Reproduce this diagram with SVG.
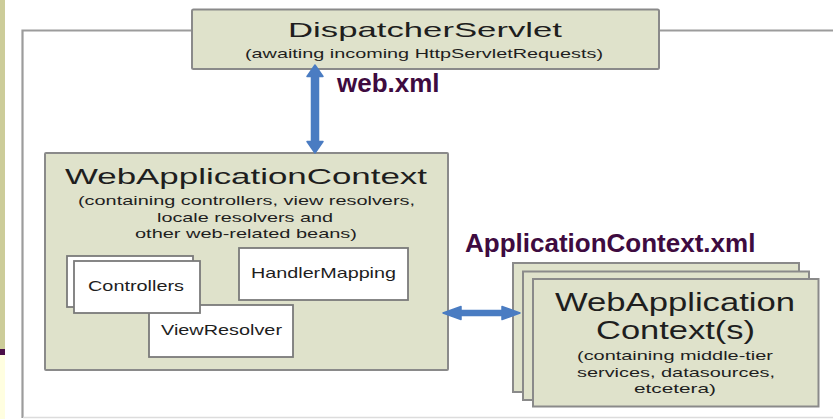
<svg xmlns="http://www.w3.org/2000/svg" width="833" height="419" viewBox="0 0 833 419">
<defs>
<style>
.box{fill:#dfe2cb;stroke:#8a8a8a;stroke-width:2}
.wbox{fill:#ffffff;stroke:#7a7a7a;stroke-width:1.8}
.t{font-family:"Liberation Sans",Arial,sans-serif;fill:#1e1e1e}
.lbl{font-family:"Liberation Sans",Arial,sans-serif;font-weight:bold;fill:#3e0b40;font-size:26px}
.arr{fill:#4a7cc2;stroke:#4a7cc2;stroke-width:1.5;stroke-linejoin:round}
</style>
</defs>
<rect x="0" y="0" width="833" height="419" fill="#ffffff"/>
<g id="slide-strip">
<rect x="0" y="0" width="5" height="349" fill="#cccc99"/>
<rect x="0" y="349" width="5" height="6" fill="#4b0f48"/>
<rect x="0" y="355" width="5" height="64" fill="#fffee0"/>
</g>
<g id="frame">
<path d="M22.5,418 V30.5 H840" fill="none" stroke="#9c9c9c" stroke-width="2.2"/>
<line x1="23" y1="417.5" x2="833" y2="417.5" stroke="#dcdcdc" stroke-width="1.5"/>
</g>
<g id="dispatcher">
<rect class="box" x="192" y="9.5" width="467" height="59.5" rx="1.5"/>
<text class="t" x="288" y="37" font-size="21" textLength="274" lengthAdjust="spacingAndGlyphs">DispatcherServlet</text>
<text class="t" x="245" y="58" font-size="13" textLength="358" lengthAdjust="spacingAndGlyphs">(awaiting incoming HttpServletRequests)</text>
</g>
<g id="webappctx">
<rect class="box" x="45" y="153" width="403" height="217" rx="1"/>
<text class="t" x="65" y="184" font-size="22" textLength="362" lengthAdjust="spacingAndGlyphs">WebApplicationContext</text>
<text class="t" x="78" y="205" font-size="13" textLength="337" lengthAdjust="spacingAndGlyphs">(containing controllers, view resolvers,</text>
<text class="t" x="157" y="221.5" font-size="13" textLength="176" lengthAdjust="spacingAndGlyphs">locale resolvers and</text>
<text class="t" x="135" y="237.5" font-size="13" textLength="222" lengthAdjust="spacingAndGlyphs">other web-related beans)</text>
</g>
<g id="viewresolver">
<rect class="wbox" x="149" y="305" width="144" height="52"/>
<text class="t" x="161" y="335" font-size="15" textLength="121" lengthAdjust="spacingAndGlyphs">ViewResolver</text>
</g>
<g id="controllers">
<rect class="wbox" x="67" y="256" width="126" height="51"/>
<rect class="wbox" x="74" y="261" width="126" height="52"/>
<text class="t" x="88" y="291" font-size="15" textLength="96" lengthAdjust="spacingAndGlyphs">Controllers</text>
</g>
<g id="handlermapping">
<rect class="wbox" x="239" y="248" width="169" height="52"/>
<text class="t" x="251" y="278" font-size="15" textLength="145" lengthAdjust="spacingAndGlyphs">HandlerMapping</text>
</g>
<g id="appctxs">
<rect class="box" x="513" y="263" width="286" height="129"/>
<rect class="box" x="523" y="271.5" width="286" height="128.5"/>
<rect class="box" x="533" y="279" width="285.5" height="127.5"/>
<text class="t" x="555" y="311" font-size="25" textLength="240" lengthAdjust="spacingAndGlyphs">WebApplication</text>
<text class="t" x="596" y="339" font-size="25" textLength="159" lengthAdjust="spacingAndGlyphs">Context(s)</text>
<text class="t" x="577" y="360" font-size="13" textLength="196" lengthAdjust="spacingAndGlyphs">(containing middle-tier</text>
<text class="t" x="577" y="377" font-size="13" textLength="198" lengthAdjust="spacingAndGlyphs">services, datasources,</text>
<text class="t" x="634" y="393" font-size="13" textLength="82" lengthAdjust="spacingAndGlyphs">etcetera)</text>
</g>
<g id="connectors">
<path class="arr" d="M315,65 L323,76.5 L318.5,76.5 L318.5,141.5 L323,141.5 L315,153 L307,141.5 L311.5,141.5 L311.5,76.5 L307,76.5 Z"/>
<path class="arr" d="M443,313 L461,306.5 L461,310.5 L502,310.5 L502,306.5 L520,313 L502,319.5 L502,315.5 L461,315.5 L461,319.5 Z"/>
</g>
<g id="labels">
<text class="lbl" x="337" y="92">web.xml</text>
<text class="lbl" x="465" y="252">ApplicationContext.xml</text>
</g>
</svg>
